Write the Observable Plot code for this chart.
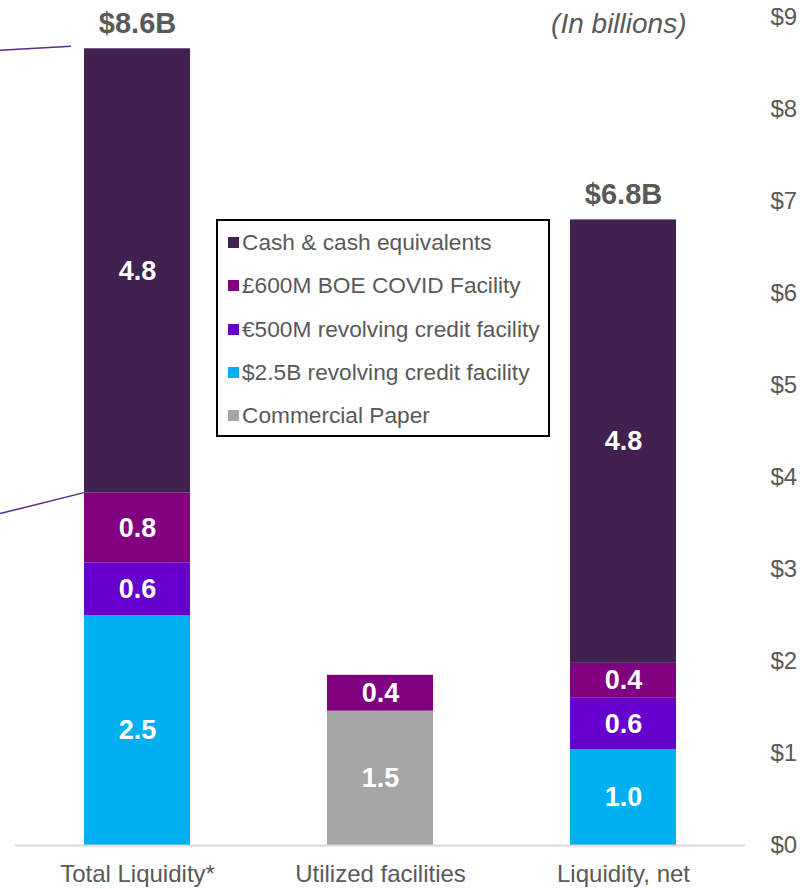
<!DOCTYPE html>
<html>
<head>
<meta charset="utf-8">
<script src="https://cdn.jsdelivr.net/npm/d3@7"></script>
<script src="https://cdn.jsdelivr.net/npm/@observablehq/plot@0.6"></script>
<style>
  html, body { margin: 0; padding: 0; background: #fff; }
  #wrap { position: relative; width: 800px; height: 889px; overflow: hidden; font-family: "Liberation Sans", Arial, sans-serif; }
  #legend { position: absolute; left: 216px; top: 219px; width: 330px; height: 214px; border: 2px solid #000; background: #fff; }
  .li { position: absolute; left: 10px; display: flex; align-items: center; font-size: 22.7px; color: #595959; white-space: nowrap; }
  .sw { width: 11px; height: 11px; margin-right: 3px; }
</style>
</head>
<body>
<div id="wrap"></div>
<script>
// ---- data ----
const categories = ["Total Liquidity*", "Utilized facilities", "Liquidity, net"];
const seriesNames = ["Cash & cash equivalents", "£600M BOE COVID Facility", "€500M revolving credit facility", "$2.5B revolving credit facility", "Commercial Paper"];
const seriesColors = ["#40214F", "#800080", "#6600CC", "#00B0F0", "#A6A6A6"];
const cashValues = [4.83, 0, 4.82];
const boeValues = [0.76, 0.39, 0.38];
const eurValues = [0.57, 0, 0.56];
const usdValues = [2.5, 0, 1.04];
const cpValues = [0, 1.46, 0];
const barLabels = {
  "Cash & cash equivalents": ["4.8", "", "4.8"],
  "£600M BOE COVID Facility": ["0.8", "0.4", "0.4"],
  "€500M revolving credit facility": ["0.6", "", "0.6"],
  "$2.5B revolving credit facility": ["2.5", "", "1.0"],
  "Commercial Paper": ["", "1.5", ""]
};
const totalLabels = ["$8.6B", "", "$6.8B"];
const yTicks = [0, 1, 2, 3, 4, 5, 6, 7, 8, 9];
const unitNote = "(In billions)";

// stacking order, bottom to top
const stackOrder = [
  ["Commercial Paper", cpValues],
  ["$2.5B revolving credit facility", usdValues],
  ["€500M revolving credit facility", eurValues],
  ["£600M BOE COVID Facility", boeValues],
  ["Cash & cash equivalents", cashValues]
];
const rows = [];
const totals = [];
categories.forEach((c, i) => {
  let base = 0;
  for (const [s, vals] of stackOrder) {
    const v = vals[i];
    if (v > 0) {
      rows.push({cat: c, series: s, y1: base, y2: base + v, mid: base + v / 2, label: barLabels[s][i]});
      base += v;
    }
  }
  totals.push({cat: c, total: base, label: totalLabels[i]});
});

const font = "Liberation Sans, Arial, sans-serif";
const chart = Plot.plot({
  width: 800,
  height: 889,
  marginTop: 17,
  marginBottom: 44,
  marginLeft: 15,
  marginRight: 55,
  style: {fontFamily: font, background: "#fff"},
  x: {domain: categories, paddingInner: 0.564, paddingOuter: 0.282, label: null},
  y: {domain: [0, 9], label: null},
  color: {domain: seriesNames, range: seriesColors},
  marks: [
    Plot.barY(rows, {x: "cat", y1: "y1", y2: "y2", fill: "series"}),
    Plot.ruleY([0], {stroke: "#D9D9D9", strokeWidth: 2}),
    Plot.text(rows, {x: "cat", y: "mid", text: "label", fill: "#fff", fontSize: 27, fontWeight: "bold"}),
    Plot.text(totals, {x: "cat", y: "total", text: "label", fill: "#595959", fontSize: 29, fontWeight: "bold", dy: -25}),
    Plot.text([unitNote], {frameAnchor: "top-right", dx: -59, dy: -4, fontSize: 28, fontStyle: "italic", fill: "#595959", textAnchor: "end"}),
    Plot.axisY({ticks: yTicks, anchor: "right", tickSize: 0, tickPadding: 25, tickFormat: d => "$" + d, fontSize: 24, color: "#595959", textAnchor: "start", label: null}),
    Plot.axisX({anchor: "bottom", tickSize: 0, tickPadding: 19, fontSize: 24, color: "#595959", label: null})
  ]
});
document.getElementById("wrap").appendChild(chart);

// callout lines from the slide (anchored with the chart's scales)
const xs = chart.scale("x"), ys = chart.scale("y");
const left = xs.apply(categories[0]);
const topY = ys.apply(totals[0].total);
const cashBase = rows.find(r => r.cat === categories[0] && r.series === seriesNames[0]).y1;
const segY = ys.apply(cashBase);
const svg = d3.select(chart.tagName.toLowerCase() === "svg" ? chart : chart.querySelector("svg"));
const callouts = [
  {x1: 0, y1: topY + 2, x2: left - 13, y2: topY - 2},
  {x1: 0, y1: segY + 21, x2: left, y2: segY}
];
svg.append("g").selectAll("line").data(callouts).join("line")
  .attr("x1", d => d.x1).attr("y1", d => d.y1).attr("x2", d => d.x2).attr("y2", d => d.y2)
  .attr("stroke", "#5B2A86").attr("stroke-width", 1.5);

// legend
const legend = document.createElement("div");
legend.id = "legend";
seriesNames.forEach((s, i) => {
  const item = document.createElement("div");
  item.className = "li";
  item.style.top = (8 + i * 43.3) + "px";
  item.innerHTML = `<span class="sw" style="background:${seriesColors[i]}"></span><span>${s}</span>`;
  legend.appendChild(item);
});
document.getElementById("wrap").appendChild(legend);
</script>
</body>
</html>
